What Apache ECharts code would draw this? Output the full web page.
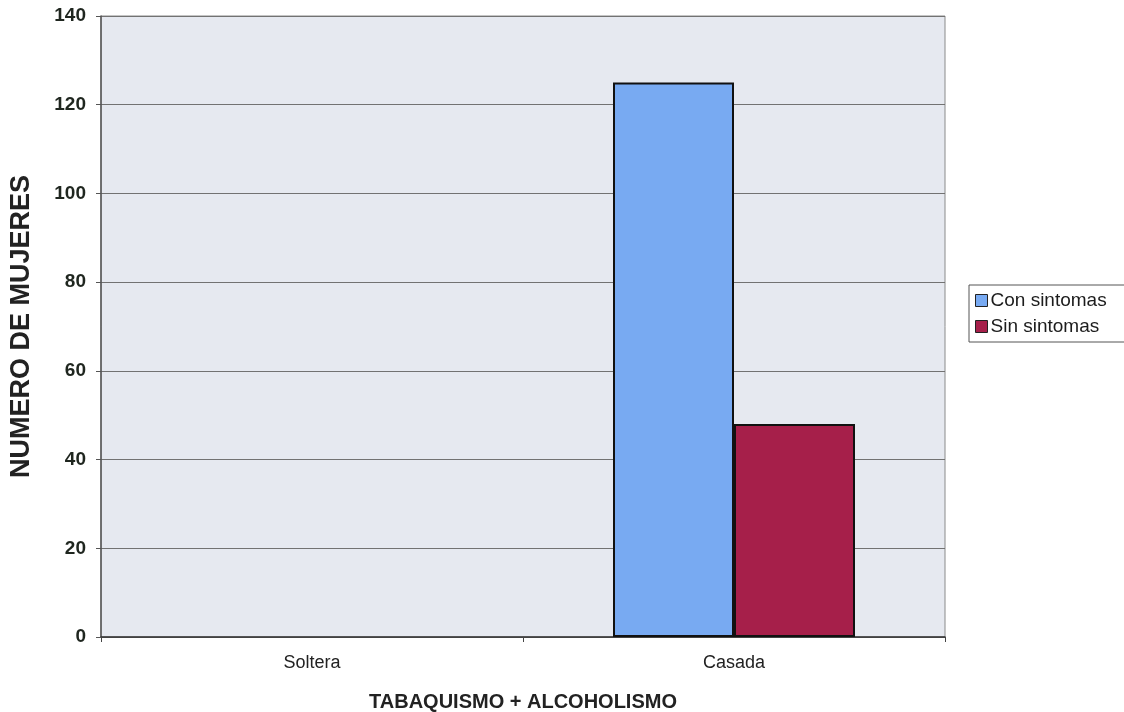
<!DOCTYPE html>
<html>
<head>
<meta charset="utf-8">
<script src="https://cdn.jsdelivr.net/npm/echarts@6/dist/echarts.min.js"></script>
<style>
  html, body { margin: 0; padding: 0; background: #ffffff; }
  #chart { width: 1124px; height: 712px; }
</style>
</head>
<body>
<div id="chart"></div>
<script>
// Estado civil en el eje X, una barra por grupo de síntomas
const categories = ['Soltera', 'Casada'];
const conSintomas = [0, 125];
const sinSintomas = [0, 48];
const seriesNames = ['Con sintomas', 'Sin sintomas'];
const yTicks = { min: 0, max: 140, interval: 20 };

const FONT = '"Liberation Sans", Arial, sans-serif';

// Bars with a zero value get no outline so nothing is drawn for them
function barData(values) {
  return values.map(v => v === 0 ? { value: v, itemStyle: { borderWidth: 0 } } : v);
}

const chart = echarts.init(document.getElementById('chart'), null, { renderer: 'canvas' });

chart.setOption({
  animation: false,
  backgroundColor: '#ffffff',
  textStyle: { fontFamily: FONT },
  grid: {
    left: 101, right: 179, top: 16, bottom: 75,
    outerBoundsMode: 'none',
    containLabel: false,
    show: true,
    backgroundColor: '#e6e9f0',
    borderColor: '#8a8a8a',
    borderWidth: 1
  },
  legend: {
    orient: 'vertical',
    left: 969, top: 285,
    data: seriesNames,
    icon: 'rect',
    itemWidth: 12, itemHeight: 12, itemGap: 7,
    padding: [6, 40, 6, 6],
    borderColor: '#555',
    borderWidth: 1,
    backgroundColor: '#ffffff',
    itemStyle: { borderColor: '#222', borderWidth: 1 },
    textStyle: { fontFamily: FONT, fontSize: 19, color: '#1c1c1c', padding: [0, 0, 0, -2] }
  },
  xAxis: {
    type: 'category',
    data: categories,
    name: 'TABAQUISMO + ALCOHOLISMO',
    nameLocation: 'middle',
    nameGap: 55,
    nameTextStyle: { fontFamily: FONT, fontSize: 20, fontWeight: 'bold', color: '#222' },
    axisLine: { lineStyle: { color: '#333', width: 1.5 } },
    axisTick: { show: true, length: 5, lineStyle: { color: '#444' } },
    axisLabel: { fontFamily: FONT, fontSize: 18, color: '#222', margin: 17 },
    splitLine: { show: false }
  },
  yAxis: {
    type: 'value',
    min: yTicks.min, max: yTicks.max, interval: yTicks.interval,
    name: 'NUMERO DE MUJERES',
    nameLocation: 'middle',
    nameGap: 66,
    nameTextStyle: { fontFamily: FONT, fontSize: 27, fontWeight: 'bold', color: '#222' },
    axisLine: { show: true, lineStyle: { color: '#555', width: 1.5 } },
    axisTick: { show: true, length: 5, lineStyle: { color: '#555' } },
    axisLabel: { fontFamily: FONT, fontSize: 19, fontWeight: 'bold', color: '#1f261f', margin: 15 },
    splitLine: { show: true, lineStyle: { color: '#727272', width: 1 } }
  },
  series: [
    {
      name: seriesNames[0],
      type: 'bar',
      data: barData(conSintomas),
      barWidth: 121,
      barGap: '0%',
      itemStyle: { color: '#78aaf2', borderColor: '#111', borderWidth: 2 }
    },
    {
      name: seriesNames[1],
      type: 'bar',
      data: barData(sinSintomas),
      barWidth: 121,
      barGap: '0%',
      itemStyle: { color: '#a61f4a', borderColor: '#111', borderWidth: 2 }
    }
  ]
});
</script>
</body>
</html>
